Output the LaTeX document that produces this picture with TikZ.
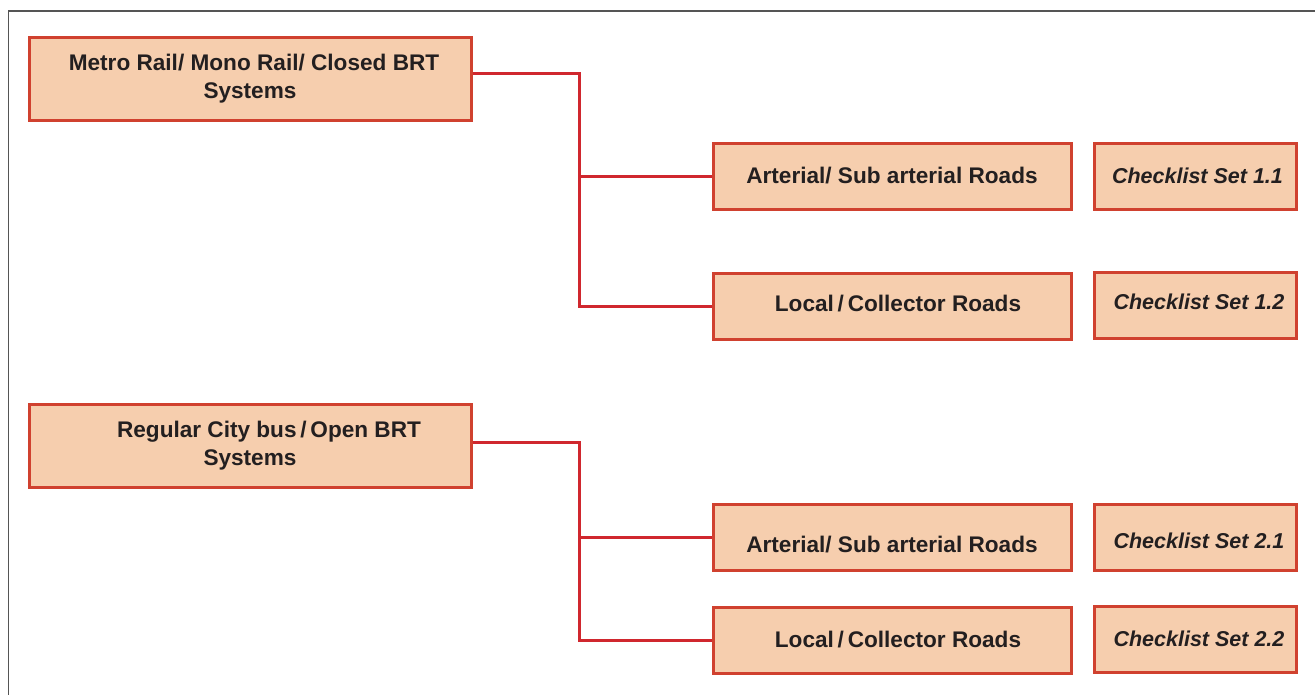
\documentclass[tikz,border=0pt]{standalone}
\usepackage{fontspec}
\setmainfont{Liberation Sans}
\definecolor{boxfill}{HTML}{F6CEAE}
\definecolor{boxdraw}{HTML}{D0412F}
\definecolor{linkred}{HTML}{D0272E}
\definecolor{framegray}{HTML}{555555}
\definecolor{ink}{HTML}{231F20}
\newcommand{\shiftdown}[2]{\raisebox{-#1}[\height][\depth]{#2}}
\tikzset{
  box/.style={draw=boxdraw, fill=boxfill, line width=3pt, inner sep=0pt,
    font=\bfseries\fontsize{22.6}{28}\selectfont, text=ink, align=center},
  bigbox/.style={box, minimum width=442pt, minimum height=83pt},
  roadbox/.style={box, minimum width=358pt, minimum height=66pt},
  checkbox/.style={box, minimum width=202pt, minimum height=66pt,
    font=\bfseries\itshape\fontsize{21.5}{26}\selectfont},
  link/.style={draw=linkred, line width=3pt},
  frame/.style={draw=framegray, line width=1.5pt}
}
\begin{document}
\begin{tikzpicture}[x=1pt,y=-1pt]
\useasboundingbox (0,0) rectangle (1315,694);
\coordinate (ftop) at (1316,11);
\coordinate (fcorner) at (8.5,11);
\coordinate (fbot) at (8.5,695);
\draw[frame] (ftop) -- (fcorner) -- (fbot);

\node[bigbox] (A) at (250,78.5) {\hspace*{8pt}Metro Rail/ Mono Rail/ Closed BRT\\Systems};
\node[bigbox] (B) at (250,445.5) {\hspace*{38pt}Regular City bus\,/\,Open BRT\\Systems};

\node[roadbox] (R1) at (892,176) {Arterial/ Sub arterial Roads};
\node[roadbox] (R2) at (892,306.5) {\hspace*{12pt}\shiftdown{-3pt}{Local\,/\,Collector Roads}};
\node[roadbox] (R3) at (892,537.5) {\shiftdown{7pt}{Arterial/ Sub arterial Roads}};
\node[roadbox] (R4) at (892,640) {\hspace*{12pt}Local\,/\,Collector Roads};

\node[checkbox] (C1) at (1195,176) {\hspace*{5pt}Checklist Set 1.1};
\node[checkbox] (C2) at (1195,305) {\hspace*{8pt}\shiftdown{-3pt}{Checklist Set 1.2}};
\node[checkbox] (C3) at (1195,537.5) {\hspace*{8pt}\shiftdown{3pt}{Checklist Set 2.1}};
\node[checkbox] (C4) at (1195,639) {\hspace*{8pt}Checklist Set 2.2};

\coordinate (jA) at (579,73);
\coordinate (jB) at (579,442);
\draw[link] (A.east |- jA) -- (jA) |- (R2.west);
\draw[link] (jA |- R1.west) -- (R1.west);
\draw[link] (B.east |- jB) -- (jB) |- (R4.west);
\draw[link] (jB |- R3.west) -- (R3.west);
\end{tikzpicture}
\end{document}
